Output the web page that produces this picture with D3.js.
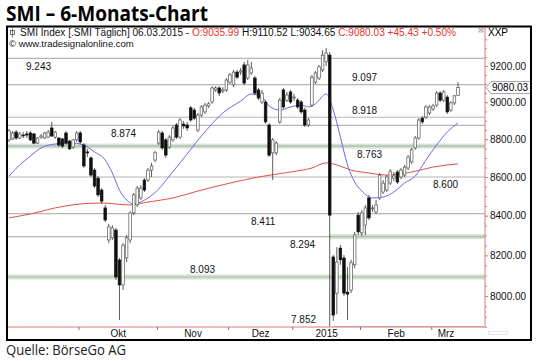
<!DOCTYPE html>
<html>
<head>
<meta charset="utf-8">
<script src="https://cdn.jsdelivr.net/npm/d3@7"></script>
<style>
  body { margin: 0; background: #fff; }
  svg { display: block; }
</style>
</head>
<body>
<div id="chart"></div>
<script>
// daily candles, early Sep 2014 .. 06.03.2015
const opens = [8796,8801,8838,8806,8822,8828,8833,8828,8779,8811,8806,8811,8860,8811,8806,8801,8833,8790,8758,8796,
  8833,8769,8732,8700,8636,8594,8532,8440,8277,8288,8327,8177,8054,8187,8277,8414,8455,8491,8584,8584,
  8636,8689,8779,8833,8796,8758,8796,8876,8811,8881,8876,8969,8957,8849,8930,8947,8979,9001,9067,9078,
  9061,9067,9110,9095,9166,9166,9206,9133,9161,9133,9067,9001,9001,8876,8727,8727,8893,9067,9011,9056,
  9023,9011,9001,8957,8876,8984,9110,9133,9178,9223,9261,8192,8014,8236,8187,8019,8029,8153,8403,8313,
  8352,8491,8435,8419,8491,8522,8532,8568,8594,8626,8600,8610,8647,8679,8753,8806,8913,8919,8941,8963,
  8984,9050,9011,9028,8957,8996,9035.99];
const highs = [8855,8844,8849,8838,8838,8844,8844,8833,8811,8828,8838,8849,8893,8844,8811,8806,8844,8796,8801,8844,
  8844,8779,8748,8710,8647,8605,8542,8455,8358,8352,8338,8187,8261,8302,8424,8517,8553,8558,8594,8647,
  8674,8737,8849,8844,8806,8822,8871,8887,8913,8898,8893,8979,8969,8941,8984,8996,9001,9088,9088,9088,
  9083,9133,9161,9178,9178,9189,9223,9234,9223,9145,9078,9067,9011,8887,8806,8790,9023,9078,9056,9067,
  9045,9023,9011,8969,8913,9150,9172,9206,9289,9301,9278,8202,8241,8252,8202,8142,8178,8318,8419,8429,
  8455,8507,8455,8481,8621,8584,8610,8641,8626,8636,8647,8663,8715,8753,8817,8913,8925,8984,8984,8991,
  9061,9061,9067,9039,9006,9039,9110.52];
const lows = [8785,8796,8796,8801,8806,8806,8790,8774,8774,8801,8801,8806,8811,8801,8758,8753,8769,8743,8748,8785,
  8774,8647,8705,8600,8542,8496,8460,8368,8261,8277,8078,7884,8029,8167,8261,8403,8445,8481,8522,8574,
  8600,8679,8769,8743,8700,8748,8785,8801,8801,8855,8844,8893,8903,8838,8919,8936,8969,8991,9056,9034,
  9050,9056,9100,9083,9127,9150,9095,9122,9150,9039,9011,8991,8882,8705,8584,8715,8882,8963,9001,8991,
  9006,8963,8936,8865,8865,8974,9100,9122,9166,9200,7852,7880,7912,8153,8000,7884,8014,8137,8302,8298,
  8302,8378,8419,8409,8481,8512,8522,8558,8579,8563,8589,8600,8636,8669,8743,8796,8882,8908,8930,8952,
  8974,9001,9001,8936,8947,8984,9034.65];
const closes = [8844,8833,8806,8828,8817,8822,8796,8779,8806,8817,8833,8838,8817,8838,8769,8763,8779,8748,8796,8833,
  8785,8658,8727,8610,8553,8507,8475,8378,8343,8338,8093,8054,8251,8288,8414,8507,8542,8542,8532,8636,
  8658,8727,8838,8753,8715,8811,8860,8811,8903,8871,8860,8903,8913,8930,8974,8984,8991,9078,9078,9050,
  9067,9122,9150,9166,9138,9172,9105,9206,9189,9050,9023,9050,8893,8715,8796,8779,9011,8974,9039,9001,
  9028,8974,8947,8876,8903,9138,9161,9195,9261,9273,8403,7908,8167,8178,8014,8009,8163,8302,8318,8414,
  8440,8389,8440,8455,8610,8568,8600,8631,8605,8574,8636,8652,8705,8743,8806,8903,8893,8974,8974,8979,
  9050,9011,9056,8947,8996,9034.6,9080.03];

// moving averages, sampled at these bars
const maShortBars = [0,3,6,9,13,18,22,24,27,29,31,33,35,37,39,42,45,48,54,60,65,68,71,73,76,79,82,84,86,89,
  91,93,95,97,99,102,105,108,111,114,117,120,123,126];
const maShort = [8605,8663,8710,8753,8774,8779,8758,8732,8689,8621,8532,8481,8460,8470,8491,8537,8605,8674,8817,8941,
  9006,9045,9028,8979,8957,8974,8984,8974,8991,9045,8957,8811,8663,8574,8527,8491,8496,8522,8568,8605,
  8689,8769,8838,8887];
const maLongBars = [0,6,13,20,26,34,39,46,53,62,70,79,85,89,92,96,101,106,113,119,126];
const maLong = [8389,8409,8440,8460,8465,8455,8470,8491,8527,8568,8600,8626,8647,8674,8663,8636,8621,8610,8626,8652,8669];

// support / resistance marks
const levels = [9243, 9097, 8918, 8874, 8763, 8600, 8411, 8294, 8093, 7852];
const levelFromBar = [0, 0, 0, 0, 0, 0, 0, 0, 0, 91];
const zoneLevels = [8763, 8294, 8093];
const zoneFromBar = [0, 90, 0];

// x axis: first bar of each month
const monthStarts = [20, 42, 62, 80, 99, 119];
const monthNames = ["Okt", "Nov", "Dez", "2015", "Feb", "Mrz"];
const priceTicks = [8000, 8200, 8400, 8600, 8800, 9000, 9200];

// where the level numbers sit (layout only)
const labelX = [26, 352, 352, 111, 357, 433, 251, 290, 190, 291];
const labelBelow = [true, false, false, true, true, true, true, true, false, false];

const width = 540;
const height = 361;
const plotL = 8, plotR = 485, plotT = 28, plotB = 327;
const arial = "'Liberation Sans', Arial, sans-serif";
const red = "#e07a7a";

const deFormat = d3.formatLocale({ decimal: ",", thousands: ".", grouping: [3], currency: ["", ""] }).format(",");
const f2 = d3.format(".2f");

const svg = d3.select("#chart").append("svg")
  .attr("width", width)
  .attr("height", height);

const x = d3.scaleLinear().domain([0, closes.length - 1]).range([9, 458]);
// the price scale of the chart is logarithmic
const y = d3.scaleLog().domain([8000, 9200]).range([296, 66]);

// title
svg.append("text")
  .attr("x", 6).attr("y", 21)
  .attr("font-family", "'Open Sans', sans-serif")
  .attr("font-weight", 700)
  .attr("font-size", 21)
  .attr("textLength", 202).attr("lengthAdjust", "spacingAndGlyphs")
  .text("SMI \u2013 6-Monats-Chart");

// clip for plot
svg.append("clipPath").attr("id", "plot")
  .append("rect").attr("x", plotL).attr("y", plotT).attr("width", plotR - plotL).attr("height", plotB - plotT);

const plot = svg.append("g").attr("clip-path", "url(#plot)");

// green zones
const zoneX = (i) => zoneFromBar[i] === 0 ? plotL : x(zoneFromBar[i]);
plot.append("g").selectAll("rect")
  .data(zoneLevels)
  .join("rect")
  .attr("x", (d, i) => zoneX(i))
  .attr("width", (d, i) => plotR - zoneX(i))
  .attr("y", (d) => y(d) - 2.5)
  .attr("height", 5)
  .attr("fill", "#d2e5d2");

// level lines
plot.append("g").selectAll("line")
  .data(levels)
  .join("line")
  .attr("x1", (d, i) => levelFromBar[i] === 0 ? plotL : x(levelFromBar[i]))
  .attr("x2", plotR)
  .attr("y1", (d) => y(d))
  .attr("y2", (d) => y(d))
  .attr("stroke", "#b5b5b5")
  .attr("stroke-width", 1.2);

// moving averages
const maLine = d3.line()
  .x((d) => x(d[0]))
  .y((d) => y(d[1]))
  .curve(d3.curveMonotoneX);

plot.append("path")
  .datum(maLongBars.map((b, i) => [b, maLong[i]]))
  .attr("d", maLine)
  .attr("fill", "none")
  .attr("stroke", "#e0504a")
  .attr("stroke-width", 1);

plot.append("path")
  .datum(maShortBars.map((b, i) => [b, maShort[i]]))
  .attr("d", maLine)
  .attr("fill", "none")
  .attr("stroke", "#6a6ae6")
  .attr("stroke-width", 1);

// candles
const bars = d3.range(closes.length);
const candles = plot.append("g");

candles.selectAll("line")
  .data(bars)
  .join("line")
  .attr("x1", (i) => x(i)).attr("x2", (i) => x(i))
  .attr("y1", (i) => y(highs[i]))
  .attr("y2", (i) => y(lows[i]))
  .attr("stroke", "#333")
  .attr("stroke-width", 0.8);

candles.selectAll("rect")
  .data(bars)
  .join("rect")
  .attr("x", (i) => x(i) - 1.3)
  .attr("width", 2.6)
  .attr("y", (i) => y(Math.max(opens[i], closes[i])))
  .attr("height", (i) => Math.max(0.8, Math.abs(y(opens[i]) - y(closes[i]))))
  .attr("fill", (i) => closes[i] >= opens[i] ? "#fff" : "#111")
  .attr("stroke", (i) => closes[i] >= opens[i] ? "#555" : "#111")
  .attr("stroke-width", 0.7);

// level numbers
svg.append("g").selectAll("text")
  .data(levels)
  .join("text")
  .attr("x", (d, i) => labelX[i])
  .attr("y", (d, i) => labelBelow[i] ? y(d) + 11.5 : y(d) - 3.5)
  .attr("font-family", arial)
  .attr("font-size", 10)
  .attr("fill", "#111")
  .text((d) => deFormat(d));

// price axis
svg.append("line")
  .attr("x1", plotR).attr("x2", plotR)
  .attr("y1", plotT).attr("y2", plotB)
  .attr("stroke", red);

const minorAxis = svg.append("g")
  .attr("transform", `translate(${plotR},0)`)
  .call(d3.axisRight(y).tickValues(d3.range(7850, 9351, 50)).tickSize(2).tickFormat(""));
minorAxis.select(".domain").remove();
minorAxis.selectAll("line").attr("stroke", red);

const priceAxis = svg.append("g")
  .attr("transform", `translate(${plotR},0)`)
  .call(d3.axisRight(y).tickValues(priceTicks).tickSize(3).tickPadding(2).tickFormat(f2));
priceAxis.select(".domain").remove();
priceAxis.selectAll("line").attr("stroke", red);
priceAxis.selectAll("text")
  .attr("font-family", arial)
  .attr("font-size", 10)
  .attr("fill", "#111");

// last price tag
const last = closes[closes.length - 1];
const yl = y(last);
svg.append("path")
  .attr("d", `M${plotR + 1},${yl} L${plotR + 6},${yl - 6} H${531} V${yl + 6} H${plotR + 6} Z`)
  .attr("fill", "#fff")
  .attr("stroke", "#8a8a8a")
  .attr("stroke-width", 0.8);
svg.append("text")
  .attr("x", plotR + 7).attr("y", yl + 3.5)
  .attr("font-family", arial)
  .attr("font-size", 10)
  .text(f2(last));

// time axis
svg.append("line")
  .attr("x1", plotL).attr("x2", plotR)
  .attr("y1", plotB).attr("y2", plotB)
  .attr("stroke", red);

const monthTicks = svg.append("g")
  .attr("transform", `translate(0,${plotB})`)
  .call(d3.axisBottom(x).tickValues(monthStarts.map((b) => b - 0.5)).tickSize(3).tickFormat(""));
monthTicks.select(".domain").remove();
monthTicks.selectAll("line").attr("stroke", "#777");

const monthEnds = monthStarts.slice(1).concat([closes.length]);
const monthMids = monthStarts.map((b, i) => (b + monthEnds[i]) / 2 - 0.5);
const monthAxis = svg.append("g")
  .attr("transform", `translate(0,${plotB})`)
  .call(d3.axisBottom(x).tickValues(monthMids).tickSize(0).tickPadding(3).tickFormat((d, i) => monthNames[i]));
monthAxis.select(".domain").remove();
monthAxis.selectAll("text")
  .attr("font-family", arial)
  .attr("font-size", 10)
  .attr("fill", "#111");

// frame
svg.append("rect")
  .attr("x", 7).attr("y", 26.5)
  .attr("width", 524).attr("height", 313.5)
  .attr("fill", "none")
  .attr("stroke", "#000")
  .attr("stroke-width", 2);

// header
const icon = svg.append("g").attr("stroke", "#555").attr("fill", "none").attr("stroke-width", 0.8);
icon.append("rect").attr("x", 10.5).attr("y", 30.5).attr("width", 4).attr("height", 4);
icon.append("line").attr("x1", 12.5).attr("x2", 12.5).attr("y1", 28.5).attr("y2", 37.5);

const n = closes.length - 1;
const change = closes[n] - closes[n - 1];
const header = svg.append("text")
  .attr("x", 20).attr("y", 36)
  .attr("font-family", arial)
  .attr("font-size", 10)
  .attr("fill", "#111")
  .attr("textLength", 436).attr("lengthAdjust", "spacingAndGlyphs");
header.append("tspan").text("SMI Index [.SMI  T\u00e4glich] 06.03.2015 - ");
header.append("tspan").attr("fill", "#e8322b").text("O:" + f2(opens[n]));
header.append("tspan").text(" H:" + f2(highs[n]) + " L:" + f2(lows[n]) + " ");
header.append("tspan").attr("fill", "#e8322b")
  .text("C:" + f2(closes[n]) + " +" + f2(change) + " +" + f2(change / closes[n - 1] * 100) + "%");

svg.append("text")
  .attr("x", 9).attr("y", 47)
  .attr("font-family", arial)
  .attr("font-size", 9.5)
  .attr("fill", "#111")
  .text("\u00a9 www.tradesignalonline.com");

const closeBox = svg.append("g").attr("stroke", "#999").attr("stroke-width", 0.7).attr("fill", "none");
closeBox.append("rect").attr("x", 479).attr("y", 28).attr("width", 4).attr("height", 4);
closeBox.append("path").attr("d", "M479,28 L483,32 M483,28 L479,32");

svg.append("text")
  .attr("x", 488).attr("y", 36)
  .attr("font-family", arial)
  .attr("font-size", 10)
  .text("XXP");

svg.append("rect")
  .attr("x", 488.5).attr("y", 331.5).attr("width", 19).attr("height", 3)
  .attr("fill", "none").attr("stroke", "#aaa").attr("stroke-width", 0.6)
  .attr("stroke-dasharray", "1,1");

// source
svg.append("text")
  .attr("x", 6).attr("y", 355)
  .attr("font-family", "'Open Sans', sans-serif")
  .attr("font-size", 15)
  .attr("fill", "#222")
  .attr("textLength", 120).attr("lengthAdjust", "spacingAndGlyphs")
  .text("Quelle: B\u00f6rseGo AG");
</script>
</body>
</html>
